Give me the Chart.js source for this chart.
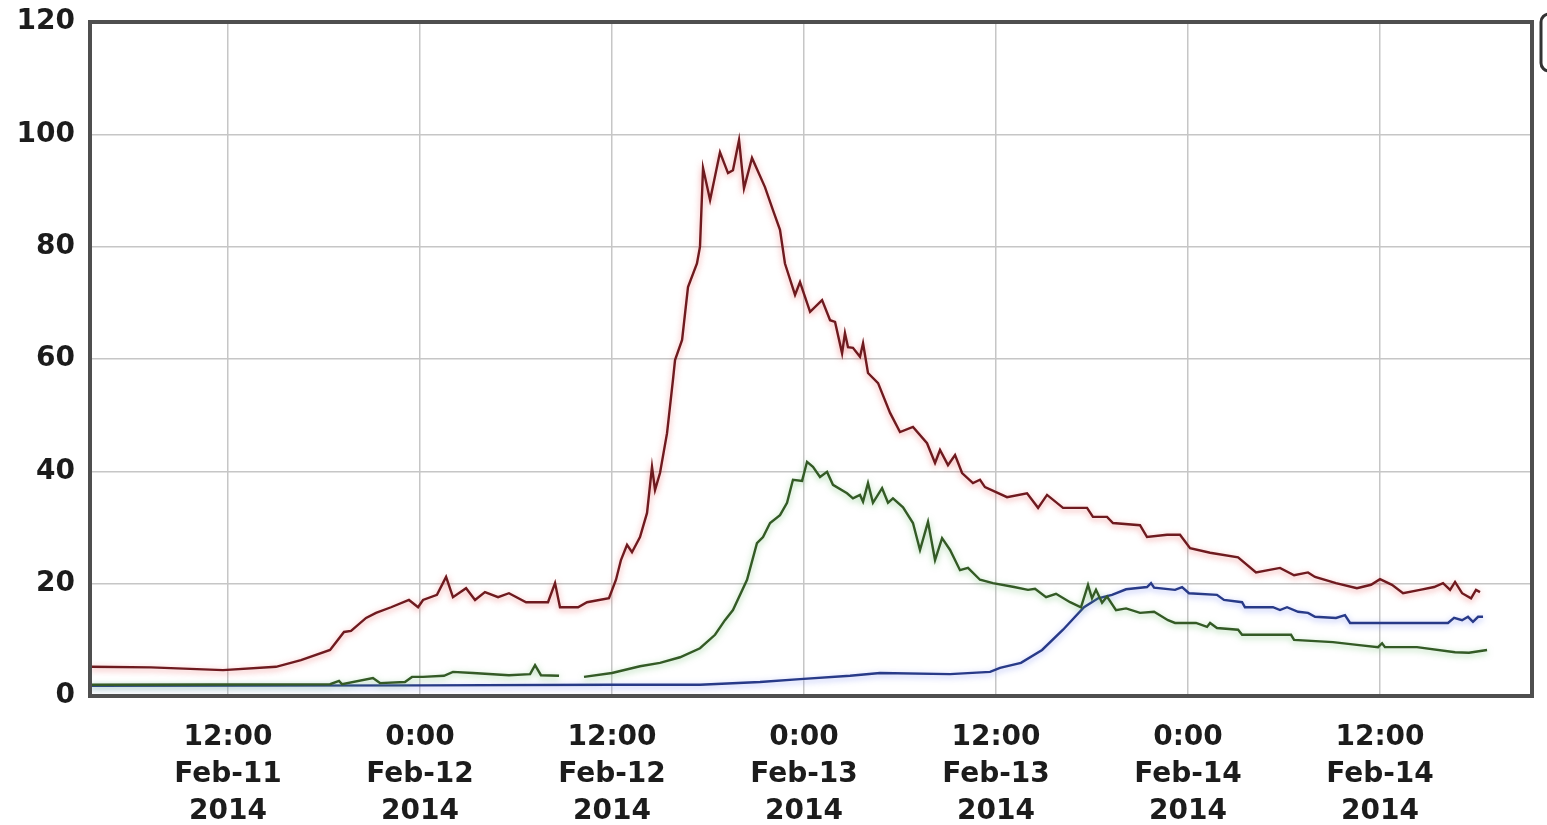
<!DOCTYPE html>
<html>
<head>
<meta charset="utf-8">
<script src="https://cdn.jsdelivr.net/npm/chart.js@4.4.1/dist/chart.umd.min.js"></script>
<style>
html, body { margin: 0; padding: 0; background: #fff; }
</style>
</head>
<body>
<canvas id="chart" width="1547" height="825"></canvas>
<script>
// hours counted from Feb-11 2014 0:00
var tickHours = [12, 24, 36, 48, 60, 72, 84];
var timeLabels = ['12:00', '0:00', '12:00', '0:00', '12:00', '0:00', '12:00'];
var dateLabels = ['Feb-11', 'Feb-12', 'Feb-12', 'Feb-13', 'Feb-13', 'Feb-14', 'Feb-14'];
var yearLabels = ['2014', '2014', '2014', '2014', '2014', '2014', '2014'];

var redHours = [3.4, 7.19, 11.69, 15, 16.56, 18.38, 19.25, 19.69, 20.63, 21.25, 22.19, 23.31, 23.88, 24.19, 25.06, 25.63, 26.06, 26.88, 27.44, 28.06, 28.88, 29.56, 30.63, 32, 32.44, 32.75, 33.88, 34.44, 35.81, 36.25, 36.56, 36.94, 37.25, 37.75, 38.19, 38.5, 38.69, 39, 39.44, 39.81, 39.94, 40.38, 40.75, 41.31, 41.5, 41.69, 42.13, 42.75, 43.25, 43.56, 43.94, 44.25, 44.75, 45.56, 46.06, 46.5, 46.81, 47.44, 47.75, 48.38, 49.13, 49.63, 49.94, 50.38, 50.56, 50.75, 51.06, 51.5, 51.69, 52, 52.63, 53.38, 54, 54.81, 55.69, 56.19, 56.5, 57, 57.44, 57.88, 58.56, 59, 59.31, 60.69, 61.94, 62.63, 63.19, 64.19, 65.69, 66.06, 66.94, 67.31, 69, 69.44, 70.69, 71.5, 72.13, 73.38, 75.13, 76.25, 77.75, 78.63, 79.5, 79.94, 81.25, 82.56, 83.44, 84, 84.75, 85.44, 86.5, 87.38, 87.94, 88.38, 88.69, 89.13, 89.69, 90, 90.25];
var redValues = [5.2, 5.1, 4.6, 5.2, 6.4, 8.2, 11.4, 11.6, 13.9, 14.8, 15.8, 17.1, 15.8, 17.1, 18.0, 21.2, 17.6, 19.2, 17.1, 18.5, 17.6, 18.3, 16.7, 16.7, 20.1, 15.8, 15.8, 16.7, 17.4, 20.7, 24.2, 26.9, 25.6, 28.3, 32.6, 40.8, 36.7, 39.7, 46.8, 56.3, 59.8, 63.4, 72.8, 77.0, 80.0, 94.0, 88.3, 96.8, 93.1, 93.6, 99.0, 90.4, 95.8, 90.6, 86.5, 83.0, 77.0, 71.4, 73.7, 68.4, 70.5, 66.9, 66.6, 61.0, 64.6, 62.1, 62.0, 60.4, 62.8, 57.5, 55.7, 50.4, 47.0, 47.9, 45.0, 41.5, 43.8, 41.1, 42.9, 39.7, 37.9, 38.5, 37.2, 35.4, 36.1, 33.5, 35.8, 33.5, 33.5, 31.9, 31.9, 30.8, 30.4, 28.3, 28.7, 28.7, 26.3, 25.5, 24.7, 22.0, 22.8, 21.5, 22.0, 21.2, 20.1, 19.2, 19.8, 20.8, 19.8, 18.3, 18.9, 19.4, 20.1, 18.9, 20.3, 18.3, 17.4, 18.9, 18.5];

var blueHours = [3.4, 24, 36, 41.5, 45.25, 47.75, 50.88, 52.75, 57.13, 59.63, 60.25, 61.56, 62.88, 64.19, 65.5, 66.38, 67.25, 68.13, 69.44, 69.69, 69.88, 71.19, 71.63, 72.06, 73.81, 74.25, 75.38, 75.56, 77.31, 77.75, 78.19, 78.88, 79.5, 79.94, 81.25, 81.81, 82.13, 88.25, 88.63, 89.13, 89.5, 89.81, 90.13, 90.44];
var blueValues = [1.8, 1.9, 2.0, 2.0, 2.5, 3.0, 3.6, 4.1, 3.9, 4.3, 5.0, 5.9, 8.2, 11.8, 15.8, 17.4, 18.0, 19.0, 19.4, 20.1, 19.3, 18.9, 19.4, 18.3, 18.0, 17.1, 16.7, 15.8, 15.8, 15.3, 15.8, 15.0, 14.8, 14.1, 13.9, 14.4, 13.0, 13.0, 13.9, 13.5, 14.1, 13.2, 14.1, 14.1];

var greenHours = [3.4, 18.38, 18.94, 19.13, 21.06, 21.5, 23.06, 23.5, 24.19, 25.5, 26.06, 27.31, 29.56, 30.88, 31.19, 31.56, 32.69, 33.5, 34.25, 36, 37.75, 39, 40.25, 41.5, 42.44, 43.06, 43.56, 44.44, 45.06, 45.44, 45.88, 46.5, 46.94, 47.31, 47.88, 48.19, 48.56, 49, 49.44, 49.81, 50.69, 51.06, 51.5, 51.69, 52, 52.31, 52.88, 53.25, 53.56, 54.19, 54.81, 55.25, 55.75, 56.19, 56.63, 57.13, 57.75, 58.25, 59, 59.81, 61.13, 62, 62.44, 63.13, 63.75, 64.63, 65.31, 65.75, 66, 66.25, 66.63, 66.94, 67.5, 68.13, 69, 69.88, 70.75, 71.19, 72.5, 73.19, 73.38, 73.81, 75.13, 75.38, 78.44, 78.63, 81.06, 82.56, 83.88, 84.13, 84.31, 86.31, 88.69, 89.56, 90.69];
var greenValues = [2.0, 2.1, 2.7, 2.1, 3.2, 2.3, 2.5, 3.4, 3.4, 3.6, 4.3, 4.1, 3.7, 3.9, 5.5, 3.7, 3.6, null, 3.4, 4.1, 5.3, 5.9, 6.9, 8.5, 10.9, 13.5, 15.3, 20.7, 27.2, 28.3, 30.8, 32.2, 34.4, 38.5, 38.3, 41.7, 40.8, 39.0, 39.9, 37.6, 36.1, 35.2, 35.8, 34.6, 37.9, 34.4, 37.0, 34.4, 35.2, 33.6, 30.8, 26.0, 31.0, 24.2, 28.1, 26.0, 22.4, 22.8, 20.7, 20.1, 19.4, 18.9, 19.1, 17.6, 18.2, 16.7, 15.8, 19.8, 17.4, 18.9, 16.6, 17.7, 15.3, 15.6, 14.8, 15.0, 13.5, 13.0, 13.0, 12.3, 13.0, 12.1, 11.8, 10.9, 10.9, 10.0, 9.6, 9.1, 8.7, 9.4, 8.7, 8.7, 7.8, 7.7, 8.2];

function toPoints(hours, values) {
    return hours.map(function (h, i) { return { x: h, y: values[i] }; });
}

var tickFont = { family: 'DejaVu Sans', weight: 'bold', size: 28 };

// glow under each line, like the original
var glowPlugin = {
    id: 'glow',
    beforeDatasetDraw: function (chart, args) {
        var ds = chart.data.datasets[args.index];
        chart.ctx.save();
        chart.ctx.shadowColor = ds.glowColor;
        chart.ctx.shadowBlur = 6;
        chart.ctx.shadowOffsetY = 2;
    },
    afterDatasetDraw: function (chart) {
        chart.ctx.restore();
    }
};

var framePlugin = {
    id: 'frame',
    afterDraw: function (chart) {
        var ctx = chart.ctx, a = chart.chartArea;
        ctx.save();
        ctx.strokeStyle = '#4f4f4f';
        ctx.lineWidth = 4;
        ctx.strokeRect(a.left, a.top, a.right - a.left, a.bottom - a.top);
        // cut-off legend box at the right edge
        ctx.lineWidth = 3;
        ctx.strokeStyle = '#333';
        ctx.beginPath();
        ctx.roundRect(a.right + 9, a.top - 8, 60, 57, 8);
        ctx.stroke();
        ctx.restore();
    }
};

new Chart(document.getElementById('chart'), {
    type: 'line',
    data: {
        datasets: [
            { data: toPoints(redHours, redValues), borderColor: '#6e1a1f', glowColor: 'rgba(235,90,90,0.6)' },
            { data: toPoints(greenHours, greenValues), borderColor: '#345a26', glowColor: 'rgba(90,180,90,0.55)' },
            { data: toPoints(blueHours, blueValues), borderColor: '#283a88', glowColor: 'rgba(100,120,240,0.55)' }
        ]
    },
    options: {
        responsive: false,
        animation: false,
        spanGaps: false,
        layout: { padding: { top: 22, right: 15, left: 0, bottom: 0 } },
        elements: {
            line: { borderWidth: 2.4, tension: 0 },
            point: { radius: 0 }
        },
        plugins: {
            legend: { display: false },
            tooltip: { enabled: false }
        },
        scales: {
            x: {
                type: 'linear',
                min: 3.375,
                max: 93.5,
                afterBuildTicks: function (scale) {
                    scale.ticks = tickHours.map(function (h) { return { value: h }; });
                },
                afterFit: function (scale) {
                    scale.height = 129;
                    scale.paddingLeft = 0;
                    scale.paddingRight = 0;
                },
                grid: { color: '#c6c6c6', lineWidth: 1.5, drawTicks: false },
                border: { display: false },
                ticks: {
                    font: { family: 'DejaVu Sans', weight: 'bold', size: 28, lineHeight: 1.32 },
                    color: '#1c1c1c',
                    padding: 23,
                    maxRotation: 0,
                    autoSkip: false,
                    callback: function (value) {
                        var i = tickHours.indexOf(value);
                        return [timeLabels[i], dateLabels[i], yearLabels[i]];
                    }
                }
            },
            y: {
                min: 0,
                max: 120,
                afterFit: function (scale) {
                    scale.width = 90;
                    scale.paddingTop = 0;
                    scale.paddingBottom = 0;
                },
                grid: { color: '#c6c6c6', lineWidth: 1.5, drawTicks: false },
                border: { display: false },
                ticks: {
                    stepSize: 20,
                    font: tickFont,
                    color: '#1c1c1c',
                    padding: 15
                }
            }
        }
    },
    plugins: [glowPlugin, framePlugin]
});
</script>
</body>
</html>
